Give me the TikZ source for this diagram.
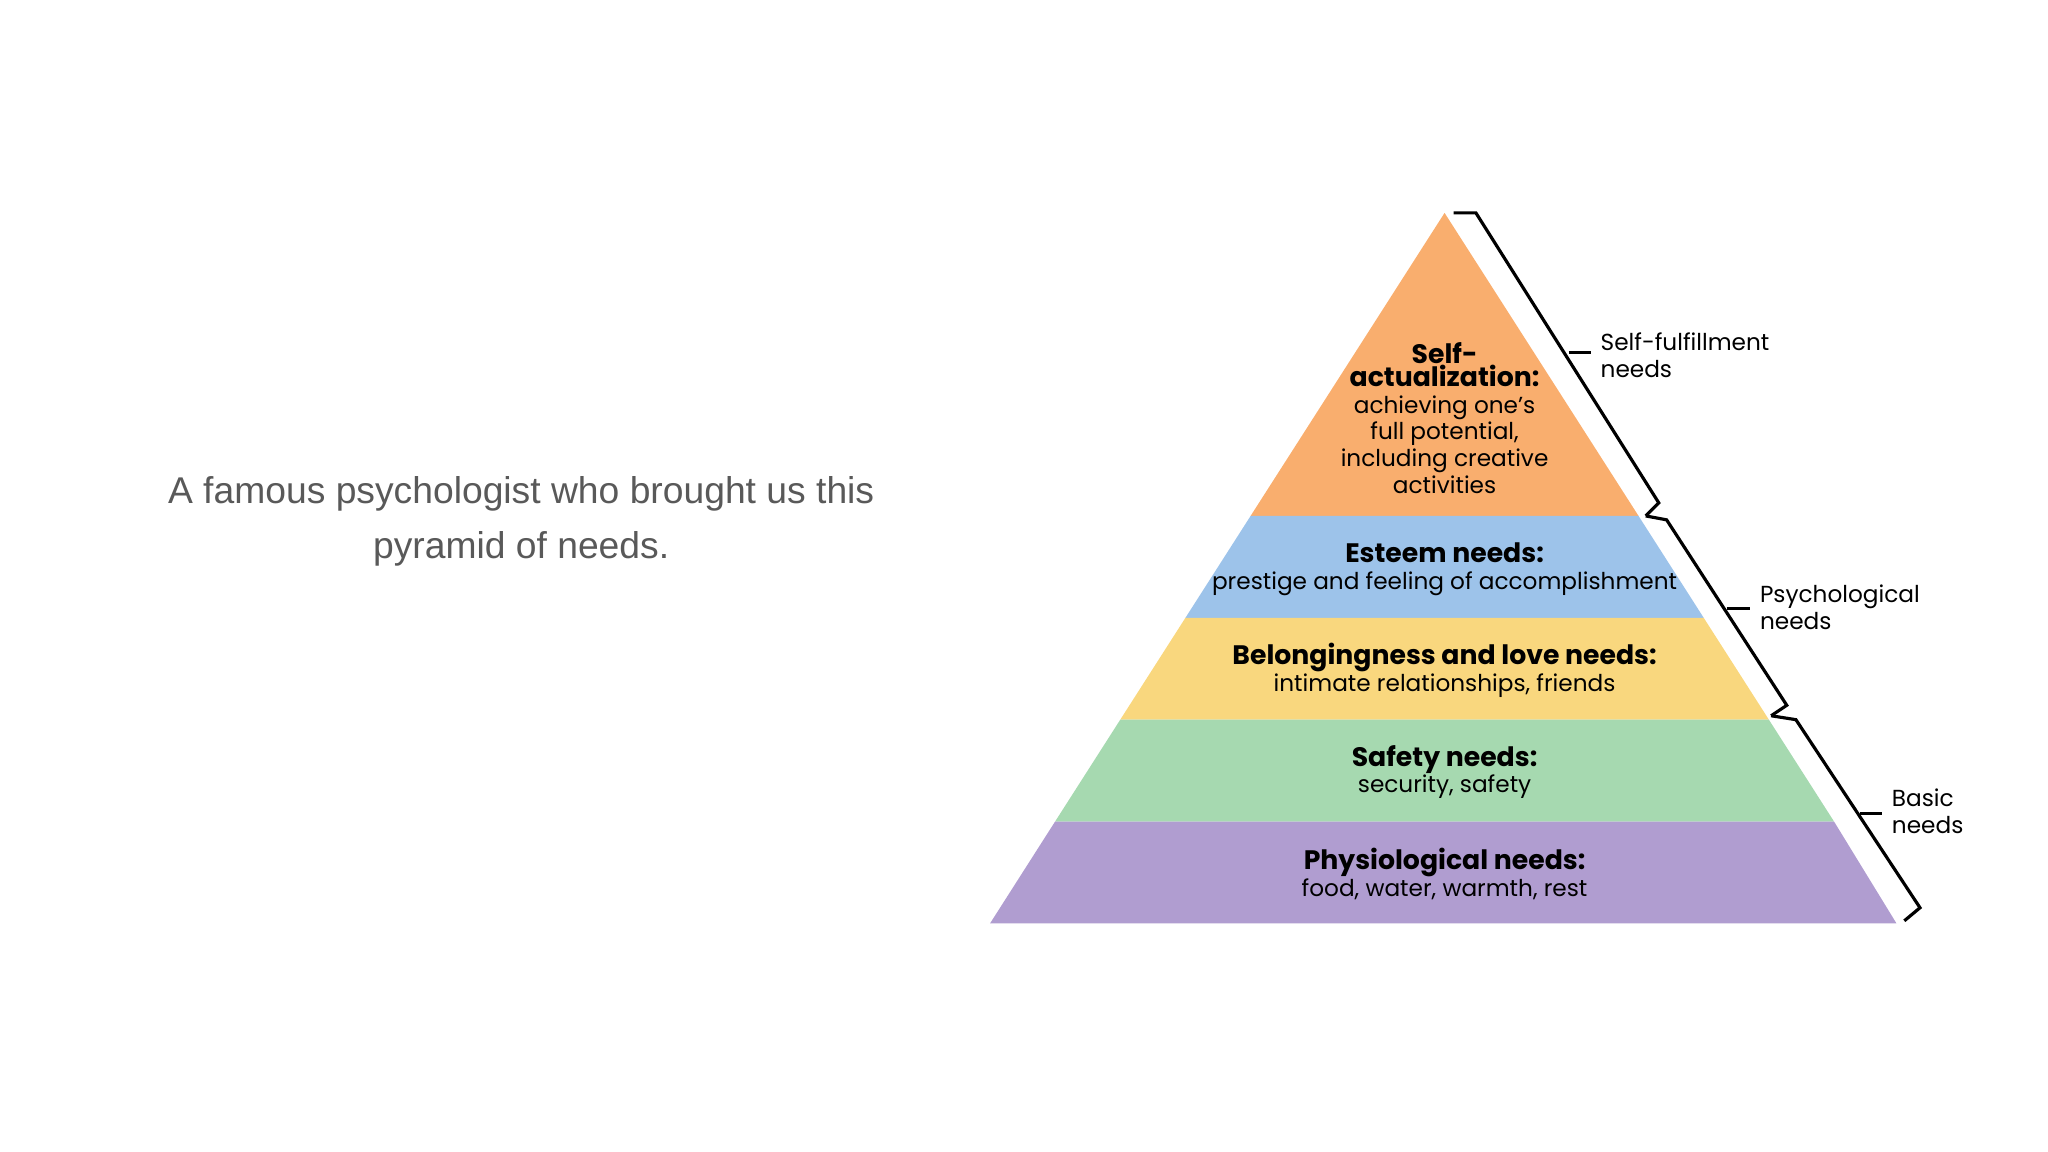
\documentclass[tikz,border=0pt]{standalone}
\usepackage{fontspec}
\setmainfont{Poppins}
\newfontfamily\arialf{Liberation Sans}
\definecolor{lorange}{HTML}{F9AE6E}
\definecolor{lblue}{HTML}{9DC3EA}
\definecolor{lyellow}{HTML}{F9D77E}
\definecolor{lgreen}{HTML}{A6D9B0}
\definecolor{lpurple}{HTML}{B09DD0}
\definecolor{greytext}{HTML}{595959}
\begin{document}
\begin{tikzpicture}[x=0.01306cm,y=-0.01306cm,
  layertxt/.style={align=center,font=\fontsize{6.6}{7.6}\selectfont,text=black,inner sep=0pt},
  sidetxt/.style={align=left,anchor=west,font=\fontsize{6.6}{7.8}\selectfont,inner sep=0pt},
  bracel/.style={line width=0.9pt,line join=miter}]
\useasboundingbox (0,0) rectangle (1568,882);
% layers: left x(y)=1106-0.64(y-163)
\fill[lorange] (1106,163) -- (957.5,395) -- (1254.5,395) -- cycle;
\fill[lblue] (957.5,395) -- (907.6,473) -- (1304.4,473) -- (1254.5,395) -- cycle;
\fill[lyellow] (907.6,473) -- (857.7,551) -- (1354.3,551) -- (1304.4,473) -- cycle;
\fill[lgreen] (857.7,551) -- (807.8,629) -- (1404.2,629) -- (1354.3,551) -- cycle;
\fill[lpurple] (807.8,629) -- (758,707) -- (1452,707) -- (1404.2,629) -- cycle;
\node[layertxt] (sa) at (1106,320) {\textbf{\fontsize{7.6}{8.6}\selectfont Self-}\\[-1pt]\textbf{\fontsize{7.6}{8.6}\selectfont actualization:}\\achieving one's\\full potential,\\including creative\\activities};
\node[layertxt] (es) at (1106,436) {\textbf{\fontsize{7.6}{8.6}\selectfont Esteem needs:}\\prestige and feeling of accomplishment};
\node[layertxt] (be) at (1106,513) {\textbf{\fontsize{7.6}{8.6}\selectfont Belongingness and love needs:}\\intimate relationships, friends};
\node[layertxt] (sf) at (1106,591) {\textbf{\fontsize{7.6}{8.6}\selectfont Safety needs:}\\security, safety};
\node[layertxt] (ph) at (1106,669) {\textbf{\fontsize{7.6}{8.6}\selectfont Physiological needs:}\\food, water, warmth, rest};
% braces
\draw[bracel] (1113,163) -- (1130,163) -- (1270,385) -- (1260,395);
\draw[bracel] (1201,270) -- (1218,270);
\draw[bracel] (1260,395) -- (1276,398) -- (1368,540) -- (1356,548);
\draw[bracel] (1322,466) -- (1340,466);
\draw[bracel] (1356,548) -- (1375,551) -- (1470,695) -- (1458,705);
\draw[bracel] (1424,623) -- (1441,623);
\node[sidetxt] (t1) at (1225,272) {Self-fulfillment\\needs};
\node[sidetxt] (t2) at (1347,465) {Psychological\\needs};
\node[sidetxt] (t3) at (1448,621) {Basic\\needs};
\node[align=center,font=\arialf\fontsize{10.6}{15.5}\selectfont,text=greytext] (lt) at (399,399) {A famous psychologist who brought us this\\pyramid of needs.};
\end{tikzpicture}
\end{document}
